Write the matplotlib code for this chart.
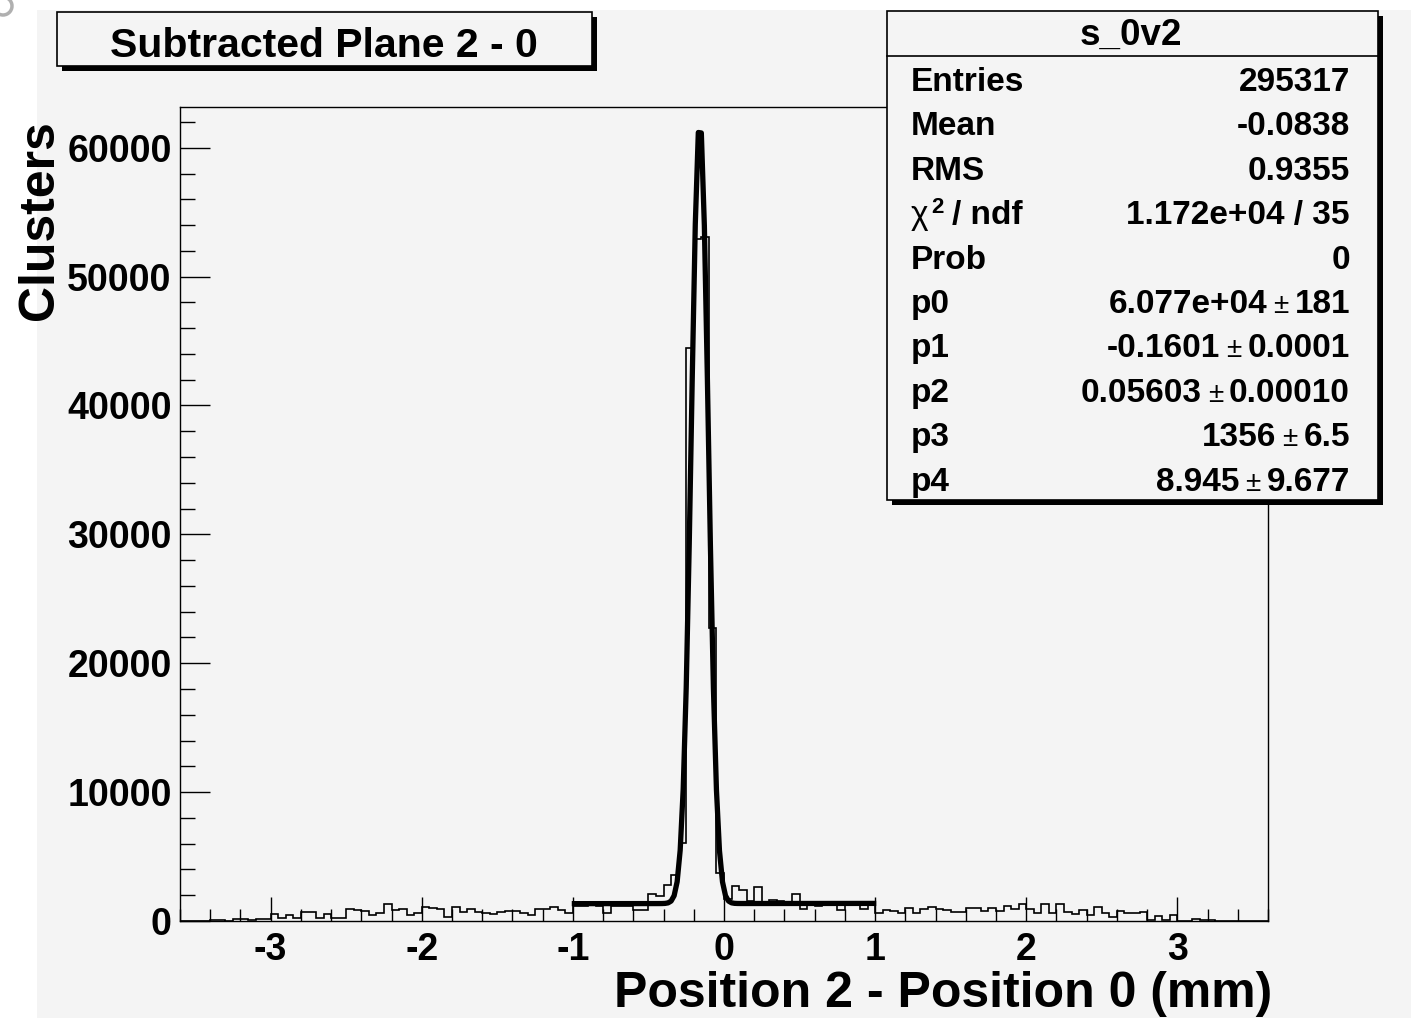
import numpy as np
import matplotlib.pyplot as plt
from matplotlib.patches import Rectangle, Arc
from matplotlib.ticker import MultipleLocator

plt.rcParams['font.family'] = ['Liberation Sans', 'DejaVu Sans']
plt.rcParams['axes.unicode_minus'] = False

W, H = 1411, 1018

# histogram s_0v2: 144 bins of 0.05 mm between -3.6 and 3.6
x_lo, x_hi, n_bins = -3.6, 3.6, 144
y_top = 63160
counts = [
    0, 0, 0, 0, 50, 50, 20, 130, 130, 50, 130, 130,
    516, 230, 500, 230, 700, 700, 230, 580, 260, 260,
    955, 851, 774, 439, 645, 1342, 851, 903, 490, 645,
    1084, 1006, 903, 335, 1084, 697, 955, 722, 593, 516,
    697, 774, 774, 645, 439, 955, 955, 1084, 851, 645,
    1165, 1165, 1216, 1165, 647, 1165, 1165, 1165, 880, 854,
    2120, 1915, 2795, 3565, 6050, 44450, 52900, 53060, 22760, 3740,
    1700, 2743, 2400, 1580, 2613, 1423, 1630, 1553, 1372, 2070,
    906, 1372, 1165, 1320, 1320, 854, 1320, 1320, 906, 1320,
    647, 828, 776, 647, 983, 647, 958, 1087, 906, 854,
    725, 725, 1035, 983, 776, 1035, 776, 1165, 906, 1346,
    958, 595, 1346, 647, 1346, 699, 518, 854, 440, 1087,
    647, 336, 776, 647, 647, 699, 78, 388, 78, 440,
    30, 0, 180, 50, 50, 0, 25, 25, 25, 0, 0, 0,
]

# gaus(0) + pol1(3) fit, range [-1, 1]
fit_par = [6.077e4, -0.1601, 0.05603, 1356.0, 8.945]
fit_range = [-1.0, 1.0]

stat_title = "s_0v2"
stat_names = ["Entries", "Mean", "RMS", None, "Prob", "p0", "p1", "p2", "p3", "p4"]
stat_values = ["295317", "-0.0838", "0.9355", "1.172e+04 / 35", "0",
               "6.077e+04", "-0.1601", "0.05603", "1356", "8.945"]
stat_errors = ["", "", "", "", "", "181", "0.0001", "0.00010", "6.5", "9.677"]

plot_title = "Subtracted Plane 2 - 0"
x_title = "Position 2 - Position 0 (mm)"
y_title = "Clusters"

pad_col = '#f4f4f4'


def fx(px):
    return px / W


def fy(py):
    return 1 - py / H


fig = plt.figure(figsize=(W / 100, H / 100), dpi=100)
fig.patch.set_facecolor('white')
fig.add_artist(Rectangle((fx(37), fy(1018)), fx(1411 - 37), (1018 - 10) / H,
                         transform=fig.transFigure, facecolor=pad_col,
                         edgecolor='none', zorder=0))
# bit of a cut-off glyph in the top left corner
fig.add_artist(Arc((fx(3), fy(6)), 18 / W, 18 / H, theta1=-130, theta2=70,
                   transform=fig.transFigure, color='#b0b0b0', lw=2.5))

ax = fig.add_axes([fx(180), fy(921), fx(1268 - 180), (921 - 107) / H])
ax.set_facecolor(pad_col)

edges = np.linspace(x_lo, x_hi, n_bins + 1)
ax.stairs(counts, edges, color='black', lw=1.2)

# fit curve drawn like ROOT (100 points)
xf = fit_range[0] + (np.arange(100) + 0.5) * (fit_range[1] - fit_range[0]) / 100
p0, p1, p2, p3, p4 = fit_par
yf = p0 * np.exp(-0.5 * ((xf - p1) / p2) ** 2) + p3 + p4 * xf
ax.plot(xf, yf, color='black', lw=3.8, solid_joinstyle='round')

ax.set_xlim(x_lo, x_hi)
ax.set_ylim(0, y_top)
ax.xaxis.set_major_locator(MultipleLocator(1))
ax.xaxis.set_minor_locator(MultipleLocator(0.2))
ax.yaxis.set_major_locator(MultipleLocator(10000))
ax.yaxis.set_minor_locator(MultipleLocator(2000))
ax.tick_params(axis='x', which='major', direction='in', length=17, width=1,
               pad=8, labelsize=27)
ax.tick_params(axis='x', which='minor', direction='in', length=8.5, width=1)
ax.tick_params(axis='y', which='major', direction='in', length=21.5, width=1,
               pad=6, labelsize=27)
ax.tick_params(axis='y', which='minor', direction='in', length=11, width=1)
for lab in ax.get_xticklabels() + ax.get_yticklabels():
    lab.set_fontweight('bold')
for s in ax.spines.values():
    s.set_linewidth(1)

fig.text(fx(1272), fy(1007), x_title, ha='right', va='baseline',
         fontsize=36, fontweight='bold')
fig.text(fx(40), fy(120), y_title, ha='center', va='top', rotation=90,
         fontsize=36, fontweight='bold')


def box(x0, y0, x1, y1):
    fig.add_artist(Rectangle((fx(x0 + 5), fy(y1 + 5)), fx(x1 - x0), (y1 - y0) / H,
                             transform=fig.transFigure, facecolor='black',
                             edgecolor='none', zorder=3))
    fig.add_artist(Rectangle((fx(x0), fy(y1)), fx(x1 - x0), (y1 - y0) / H,
                             transform=fig.transFigure, facecolor=pad_col,
                             edgecolor='black', lw=1.2, zorder=4))


# title box
box(57, 12, 592, 66)
fig.text(fx(324), fy(57), plot_title, ha='center', va='baseline',
         fontsize=29.5, fontweight='bold', zorder=5)

# stats box
box(887, 11, 1378, 500)
fig.add_artist(plt.Line2D([fx(887), fx(1378)], [fy(56), fy(56)],
                          transform=fig.transFigure, color='black', lw=1.2,
                          zorder=5))
fig.text(fx(1131), fy(45), stat_title, ha='center', va='baseline',
         fontsize=26.5, fontweight='bold', zorder=5)

fig.canvas.draw()
rend = fig.canvas.get_renderer()
x_lab, x_val = 911, 1350
fs = 24
for k in range(len(stat_values)):
    base = 91 + 44.4 * k
    if stat_names[k] is None:
        fig.text(fx(x_lab), fy(base), "\u03c7", ha='left', va='baseline',
                 fontsize=fs, zorder=5)
        fig.text(fx(x_lab + 20), fy(base - 11), "2", ha='left', va='baseline',
                 fontsize=16, fontweight='bold', zorder=5)
        fig.text(fx(x_lab + 41), fy(base), "/ ndf", ha='left', va='baseline',
                 fontsize=fs, fontweight='bold', zorder=5)
    else:
        fig.text(fx(x_lab), fy(base), stat_names[k], ha='left', va='baseline',
                 fontsize=fs, fontweight='bold', zorder=5)
    xr = x_val
    if stat_errors[k]:
        t = fig.text(fx(xr), fy(base), stat_errors[k], ha='right',
                     va='baseline', fontsize=fs, fontweight='bold', zorder=5)
        xr = t.get_window_extent(rend).x0 - 6
        t = fig.text(fx(xr), fy(base), "\u00b1", ha='right', va='baseline',
                     fontsize=20, zorder=5)
        xr = t.get_window_extent(rend).x0 - 6
    fig.text(fx(xr), fy(base), stat_values[k], ha='right', va='baseline',
             fontsize=fs, fontweight='bold', zorder=5)

fig.savefig('out.png', dpi=100, facecolor='white')
